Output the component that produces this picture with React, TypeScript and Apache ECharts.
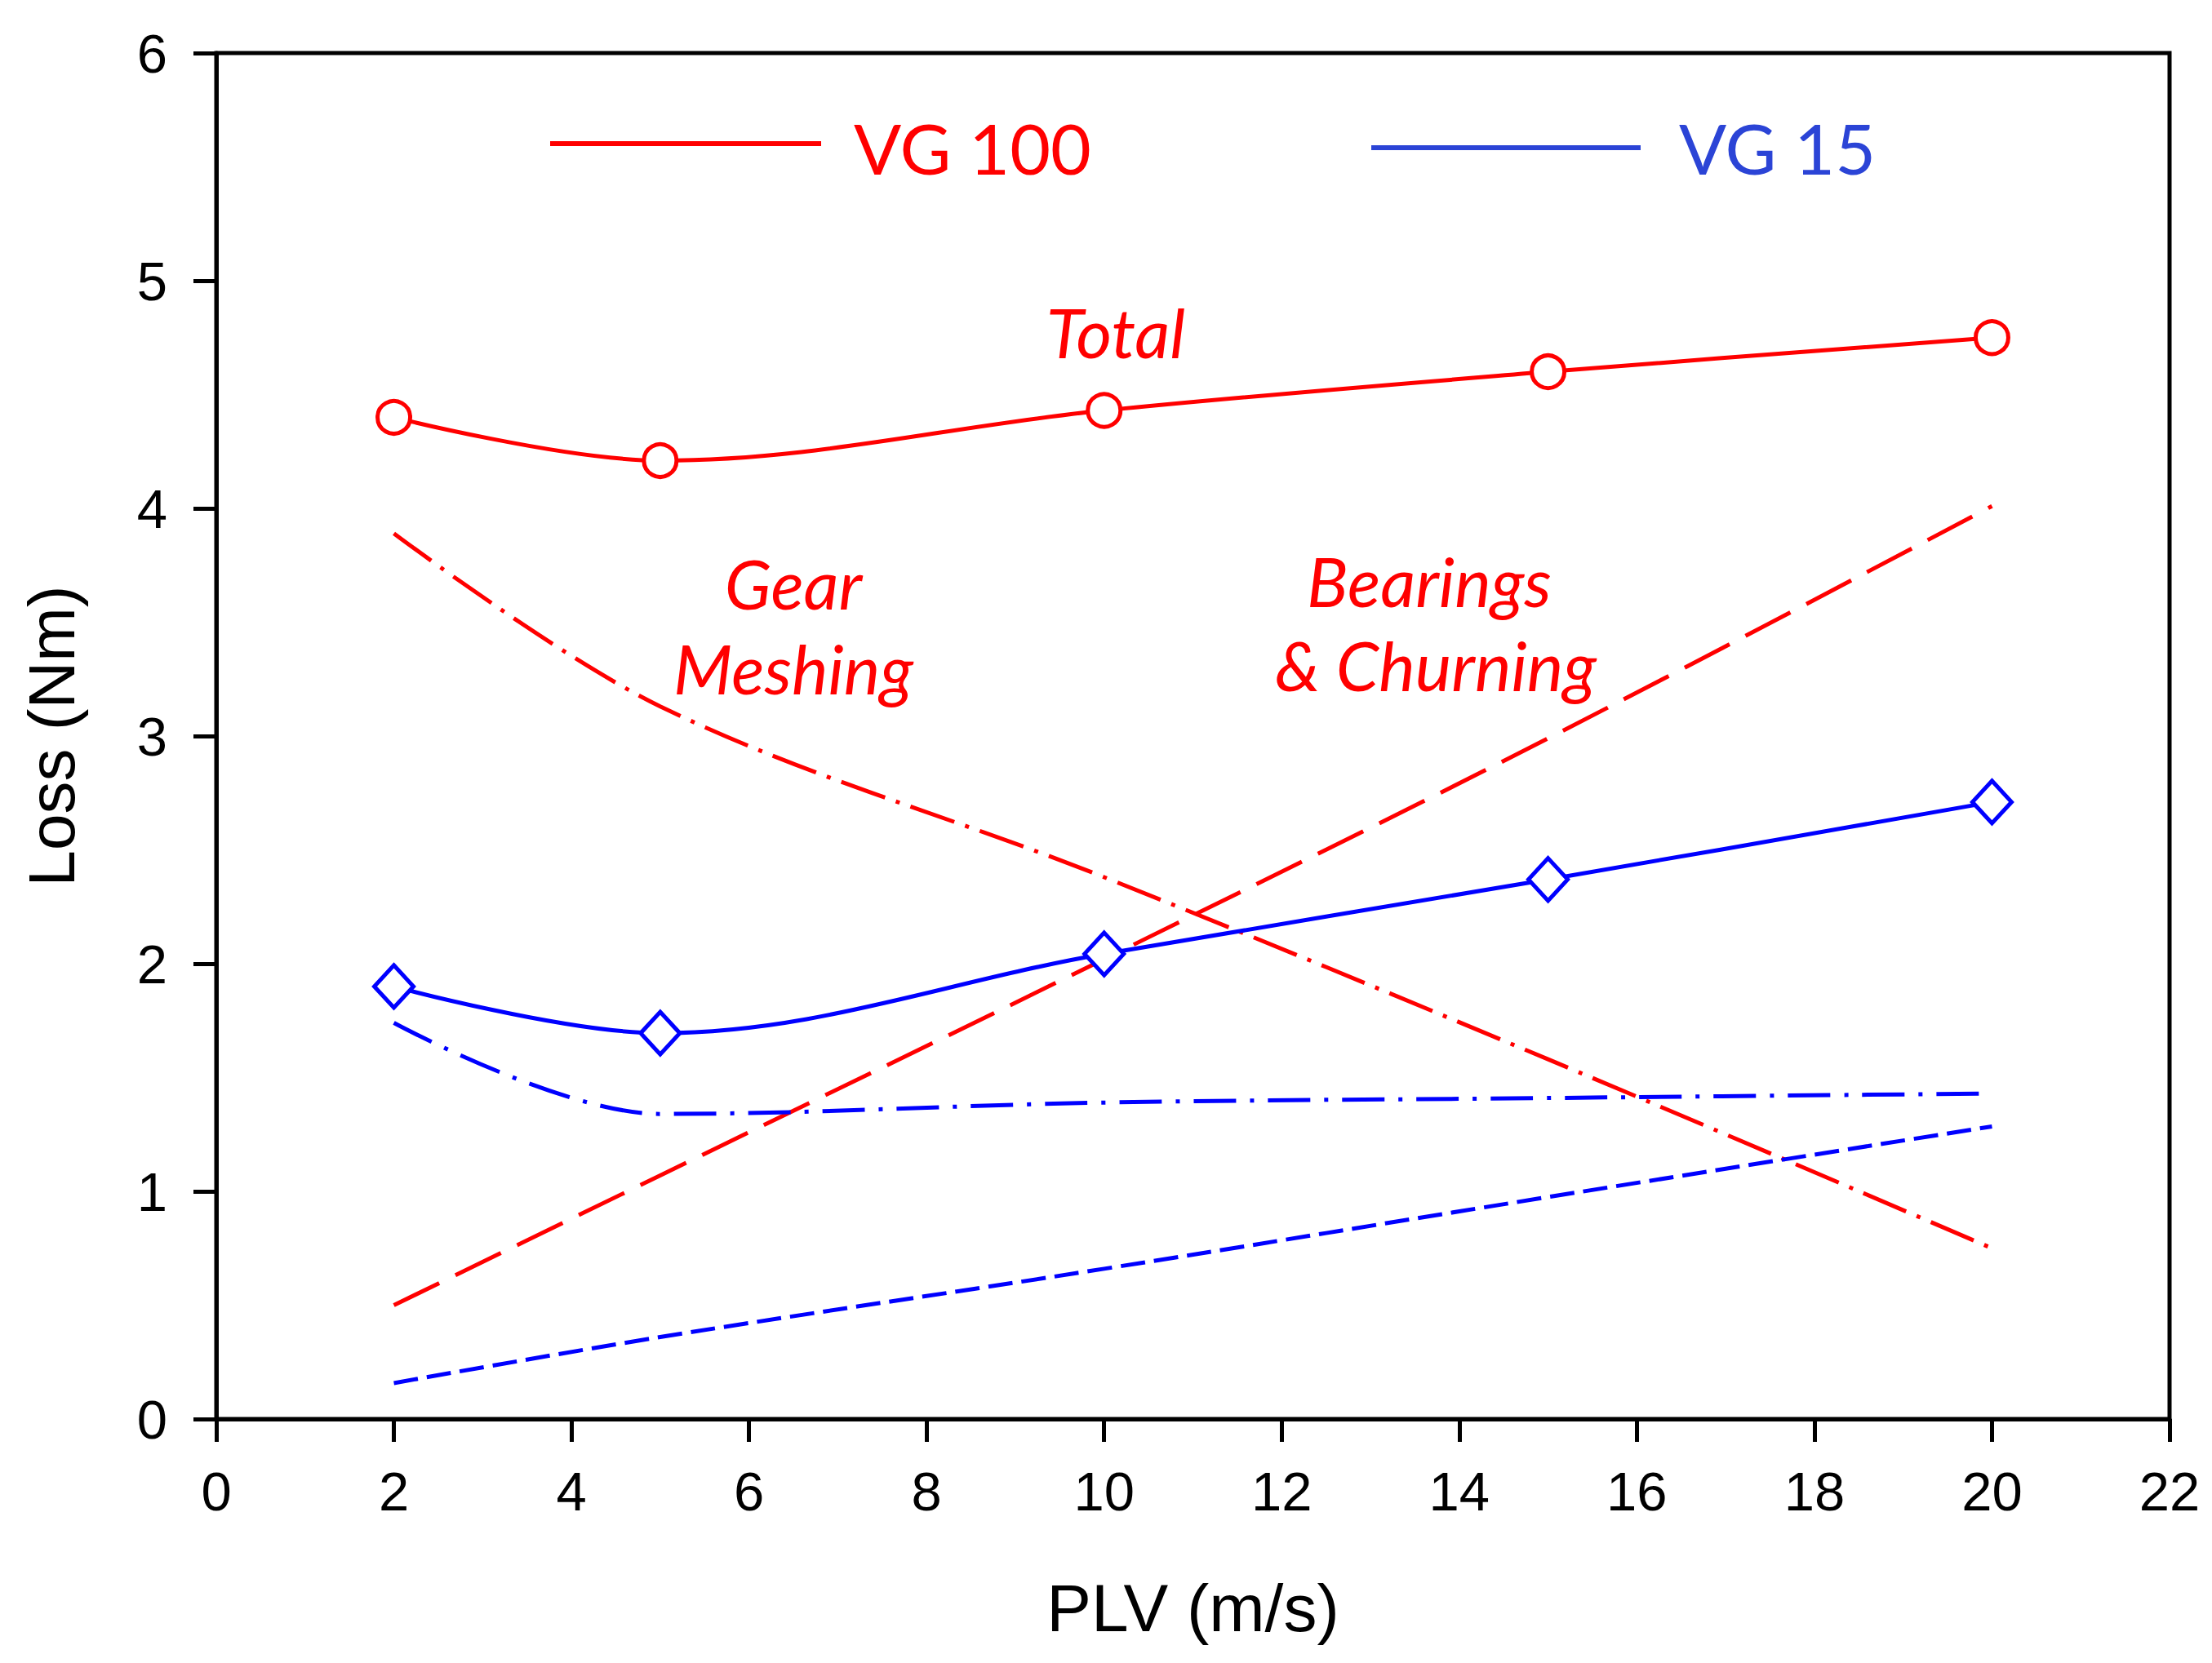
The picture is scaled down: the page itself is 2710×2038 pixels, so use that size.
import React, { useEffect, useRef } from 'react';
import * as echarts from 'echarts';

// PLV (m/s) at which the curves were computed
const plv = [2, 5, 10, 15, 20];

// VG 100 (red)
const vg100Total = [4.4, 4.21, 4.43, 4.6, 4.75];
const vg100Gear = [3.89, 3.13, 2.38, 1.58, 0.75];
const vg100Bearing = [0.5, 1.07, 2.02, 2.99, 4.01];

// VG 15 (blue)
const vg15Total = [1.9, 1.695, 2.043, 2.37, 2.71];
const vg15Gear = [1.74, 1.34, 1.39, 1.41, 1.43];
const vg15Bearing = [0.158, 0.36, 0.66, 0.975, 1.285];

const RED = '#ff0000';
const BLUE = '#0000ff';
const LEGEND_BLUE = '#2b44d6';

const pairs = (ys: number[]) => plv.map((x, i) => [x, ys[i]]);

const App: React.FC = () => {
  const chartRef = useRef<HTMLDivElement>(null);

  useEffect(() => {
    if (!chartRef.current) return;
    const chart = echarts.init(chartRef.current, undefined, { renderer: 'svg' });

    const lineSeries = (
      name: string,
      ys: number[],
      color: string,
      dash: number[] | 'solid',
      symbol?: string,
      symbolSize?: number | number[],
    ) => ({
      name,
      type: 'line',
      data: pairs(ys),
      smooth: 0.35,
      symbol: symbol ?? 'none',
      showSymbol: !!symbol,
      symbolSize: symbolSize ?? 0,
      z: symbol ? 5 : 3,
      lineStyle: { color, width: 5, type: dash },
      itemStyle: { color: '#fff', borderColor: color, borderWidth: 5 },
    });

    const option: echarts.EChartsOption = {
      animation: false,
      backgroundColor: '#fff',
      grid: {
        left: 265,
        right: 52,
        top: 65,
        bottom: 299,
        show: true,
        borderColor: '#000',
        borderWidth: 5,
      },
      xAxis: {
        type: 'value',
        min: 0,
        max: 22,
        interval: 2,
        name: 'PLV (m/s)',
        nameLocation: 'middle',
        nameGap: 190,
        nameTextStyle: { fontFamily: 'Liberation Sans', fontSize: 82, color: '#000' },
        axisLine: { lineStyle: { color: '#000', width: 5 } },
        axisTick: { show: true, inside: false, length: 28, lineStyle: { color: '#000', width: 5 } },
        axisLabel: { fontFamily: 'Liberation Sans', fontSize: 67, color: '#000', margin: 55 },
        splitLine: { show: false },
      },
      yAxis: {
        type: 'value',
        min: 0,
        max: 6,
        interval: 1,
        name: 'Loss (Nm)',
        nameLocation: 'middle',
        nameGap: 162,
        nameTextStyle: { fontFamily: 'Liberation Sans', fontSize: 80, color: '#000' },
        axisLine: { show: true, lineStyle: { color: '#000', width: 5 } },
        axisTick: { show: true, inside: false, length: 28, lineStyle: { color: '#000', width: 5 } },
        axisLabel: { fontFamily: 'Liberation Sans', fontSize: 67, color: '#000', margin: 60 },
        splitLine: { show: false },
      },
      series: [
        lineSeries('VG 100 Gear Meshing', vg100Gear, RED, [57, 14, 5, 14]),
        lineSeries('VG 100 Bearings & Churning', vg100Bearing, RED, [62, 22]),
        lineSeries('VG 15 Gear Meshing', vg15Gear, BLUE, [52, 17, 5, 17]),
        lineSeries('VG 15 Bearings & Churning', vg15Bearing, BLUE, [30, 11]),
        lineSeries('VG 100 Total', vg100Total, RED, 'solid', 'circle', 40),
        lineSeries('VG 15 Total', vg15Total, BLUE, 'solid', 'diamond', [48, 52]),
      ] as any,
      graphic: [
        {
          type: 'line',
          shape: { x1: 674, y1: 176, x2: 1006, y2: 176 },
          style: { stroke: RED, lineWidth: 6 },
        },
        {
          type: 'text',
          x: 1046,
          y: 180,
          style: {
            text: 'VG 100',
            font: '86px Lato',
            fill: RED,
            textAlign: 'left',
            textVerticalAlign: 'middle',
            align: 'left',
            verticalAlign: 'middle',
          } as any,
        },
        {
          type: 'line',
          shape: { x1: 1680, y1: 181, x2: 2010, y2: 181 },
          style: { stroke: LEGEND_BLUE, lineWidth: 6 },
        },
        {
          type: 'text',
          x: 2057,
          y: 180,
          style: {
            text: 'VG 15',
            font: '86px Lato',
            fill: LEGEND_BLUE,
            textAlign: 'left',
            textVerticalAlign: 'middle',
            align: 'left',
            verticalAlign: 'middle',
          } as any,
        },
        ...[
          { t: 'Total', x: 1367, y: 406 },
          { t: 'Gear', x: 972, y: 714 },
          { t: 'Meshing', x: 972, y: 818 },
          { t: 'Bearings', x: 1751, y: 711 },
          { t: '& Churning', x: 1759, y: 814 },
        ].map((a) => ({
          type: 'text',
          x: a.x,
          y: a.y,
          style: {
            text: a.t,
            font: 'italic 84px Lato',
            fill: RED,
            textAlign: 'center',
            textVerticalAlign: 'middle',
            align: 'center',
            verticalAlign: 'middle',
          } as any,
        })),
      ] as any,
    };

    chart.setOption(option);
    return () => {
      chart.dispose();
    };
  }, []);

  return (
    <div
      ref={chartRef}
      style={{ position: 'fixed', left: 0, top: 0, width: 2710, height: 2038, background: '#fff' }}
    ></div>
  );
};

export default App;
